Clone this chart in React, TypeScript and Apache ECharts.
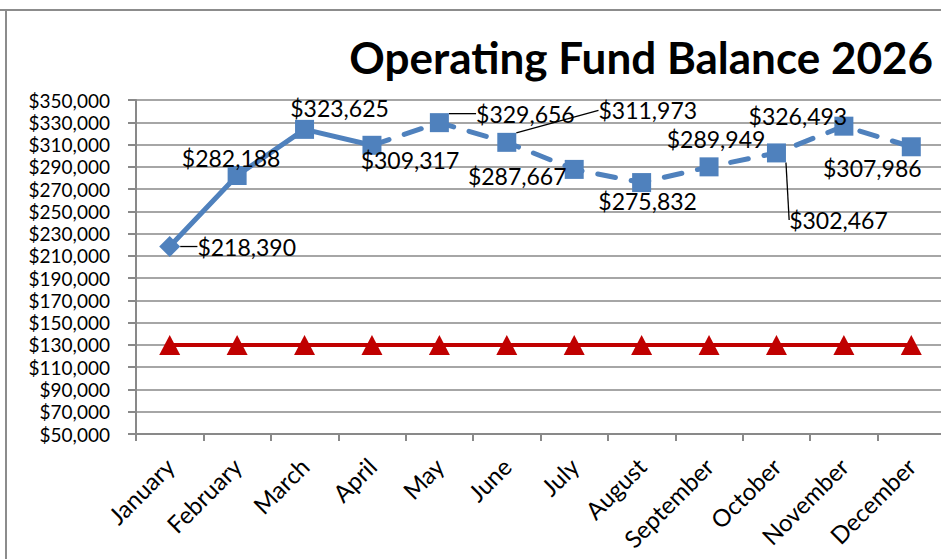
import React, { useEffect, useRef } from "react";
import * as echarts from "echarts";

const months = [
  "January", "February", "March", "April", "May", "June",
  "July", "August", "September", "October", "November", "December",
];
const balance = [
  218390, 282188, 323625, 309317, 329656, 311973,
  287667, 275832, 289949, 302467, 326493, 307986,
];
const minimumBalance = [
  130000, 130000, 130000, 130000, 130000, 130000,
  130000, 130000, 130000, 130000, 130000, 130000,
];
const yMin = 50000;
const yMax = 350000;
const yStep = 20000;
const actualCount = 4; // January..April drawn solid, April onward dashed

// label placement (style only): offsets from the point, and which have leader lines
const labelOffsets: [number, number][] = [
  [77, 0], [-6, -17], [35, -21], [38, 15], [86, -9], [141, -32],
  [-57, 7], [6, 18], [7, -28], [62, 67], [-46, -10], [-39, 21],
];
const leaderIdx = [0, 4, 5, 9];

const BLUE = "#4F81BD";
const RED = "#C00000";
const GRID = "#A6A6A6";
const AXIS = "#898989";
const FONT = "Lato";

export default function App() {
  const ref = useRef<HTMLDivElement>(null);
  useEffect(() => {
    const chart = echarts.init(ref.current!, null, { renderer: "svg" });
    const fmt = (v: number) => "$" + Number(v).toLocaleString("en-US");

    const solid = balance.map((v, i) => (i < actualCount ? v : "-"));
    const dashed = balance.map((v, i) => (i >= actualCount - 1 ? v : "-"));

    const markerData = balance.map((v, i) => ({
      value: v,
      symbol: i === 0 ? "diamond" : "rect",
      symbolSize: i === 0 ? 21 : 19,
      labelLine: {
        show: leaderIdx.includes(i),
        lineStyle: { color: "#000", width: 1.3 },
      },
    }));

    chart.setOption({
      animation: false,
      backgroundColor: "#ffffff",
      title: {
        text: "Operating Fund Balance 2026",
        right: 3,
        top: 30,
        textStyle: {
          fontFamily: FONT,
          fontWeight: "bold",
          fontSize: 44,
          color: "#000",
        },
      },
      grid: {
        left: 136,
        right: -4,
        top: 100,
        bottom: 125,
        containLabel: false,
        outerBoundsMode: "none",
      },
      xAxis: {
        type: "category",
        data: months,
        boundaryGap: true,
        axisLine: { show: true, lineStyle: { color: AXIS, width: 2 } },
        axisTick: { show: true, length: 7, lineStyle: { color: AXIS, width: 2 } },
        axisLabel: {
          interval: 0,
          rotate: 45,
          margin: 28,
          fontFamily: FONT,
          fontSize: 24,
          color: "#000",
        },
        splitLine: { show: false },
      },
      yAxis: {
        type: "value",
        min: yMin,
        max: yMax,
        interval: yStep,
        axisLine: { show: true, lineStyle: { color: AXIS, width: 2 } },
        axisTick: { show: true, length: 8, lineStyle: { color: AXIS, width: 2 } },
        axisLabel: {
          formatter: fmt,
          margin: 26,
          fontFamily: FONT,
          fontSize: 19,
          lineHeight: 19,
          color: "#000",
          showMinLabel: true,
          showMaxLabel: true,
          hideOverlap: false,
        },
        splitLine: { show: true, lineStyle: { color: GRID, width: 2 } },
      },
      graphic: [
        {
          type: "line",
          shape: { x1: 0, y1: 10, x2: 941, y2: 10 },
          style: { stroke: "#8C8C8C", lineWidth: 2 },
          silent: true,
        },
        {
          type: "line",
          shape: { x1: 6, y1: 10, x2: 6, y2: 559 },
          style: { stroke: "#8C8C8C", lineWidth: 2 },
          silent: true,
        },
      ],
      series: [
        {
          name: "Minimum",
          type: "line",
          data: minimumBalance,
          symbol: "triangle",
          symbolSize: [21, 20],
          itemStyle: { color: RED },
          lineStyle: { color: RED, width: 4 },
          z: 3,
        },
        {
          name: "Actual",
          type: "line",
          data: solid,
          showSymbol: false,
          lineStyle: { color: BLUE, width: 5, cap: "round", join: "round" },
          z: 4,
        },
        {
          name: "Projected",
          type: "line",
          data: dashed,
          showSymbol: false,
          lineStyle: {
            color: BLUE,
            width: 5,
            type: [18, 16],
            cap: "round",
            join: "round",
          },
          z: 4,
        },
        {
          name: "Balance",
          type: "line",
          data: markerData,
          showAllSymbol: true,
          itemStyle: { color: BLUE },
          lineStyle: { opacity: 0, width: 0 },
          z: 5,
          label: {
            show: true,
            position: "inside",
            formatter: (p: any) => fmt(p.value),
            fontFamily: FONT,
            fontSize: 23,
            color: "#000",
          },
          labelLine: { show: false },
          labelLayout: (params: any) => {
            const o = labelOffsets[params.dataIndex] || [0, 0];
            return { dx: o[0], dy: o[1] };
          },
        },
      ],
    });
    return () => chart.dispose();
  }, []);
  return (
    <div
      ref={ref}
      style={{ position: "fixed", left: 0, top: 0, width: 941, height: 559 }}
    />
  );
}
